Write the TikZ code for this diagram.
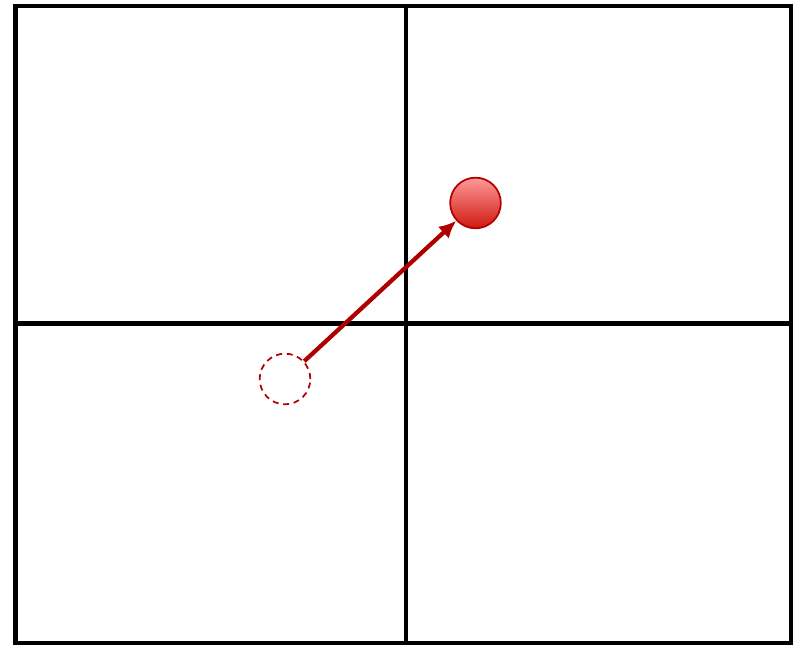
\documentclass[tikz,border=0pt]{standalone}
\usetikzlibrary{arrows.meta}
\definecolor{ballred}{RGB}{205,25,15}
\definecolor{ballrim}{RGB}{180,0,0}
\definecolor{arrowred}{RGB}{175,0,0}
\begin{document}
\begin{tikzpicture}[x=0.75pt,y=-0.75pt]
  % Bounding box
  \useasboundingbox (0,0) rectangle (801,648);

  % Coordinates
  \coordinate (A) at (15.5,6);
  \coordinate (B) at (791,643);
  \coordinate (C) at (406,6);
  \coordinate (D) at (406,643);
  \coordinate (E) at (15.5,323.5);
  \coordinate (F) at (791,323.5);

  % Grid
  \draw[line width=3.2pt] (A) rectangle (B);
  \draw[line width=3.2pt] (C) -- (D);
  \draw[line width=3.2pt] (E) -- (F);

  % Circles
  \node[circle,minimum size=38pt,inner sep=0pt,draw=ballrim,line width=1.3pt,
        top color=red!40!white,bottom color=ballred] (ball) at (475.5,203) {};
  \node[circle,minimum size=38pt,inner sep=0pt,draw=ballrim,line width=1.3pt,
        dash pattern=on 4.5pt off 3.5pt] (ghost) at (285,379) {};

  % Arrow
  \draw[arrowred,line width=3.2pt,-{Latex[length=13pt,width=12pt]}] (ghost) -- (ball);
\end{tikzpicture}
\end{document}
